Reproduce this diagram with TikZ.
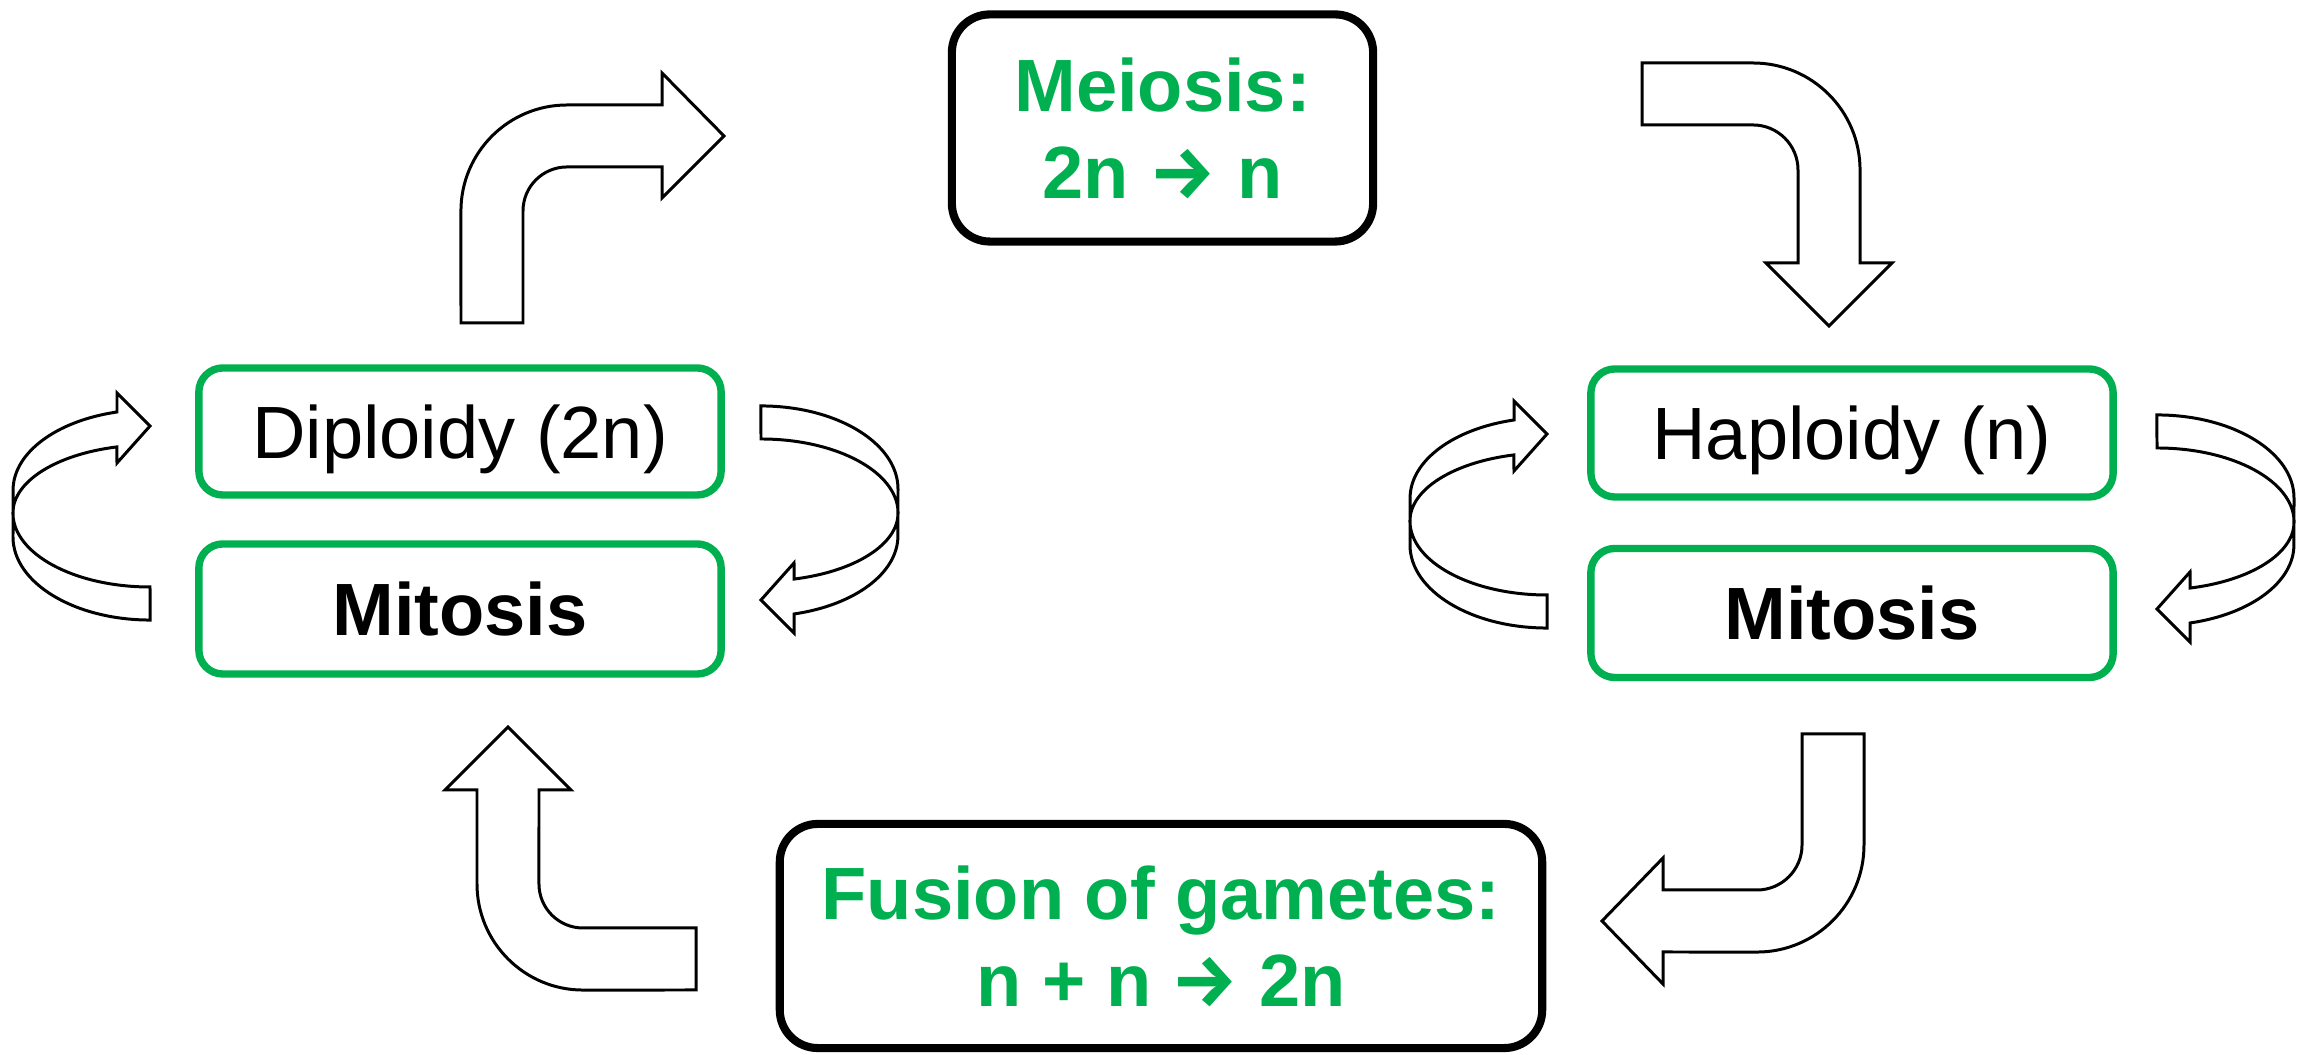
\documentclass[tikz,border=0pt]{standalone}
\usepackage{fontspec}
\setmainfont{Liberation Sans}
\newfontfamily\arrowfont{Fira Sans}
\newcommand{\bigarr}{{\arrowfont\bfseries →}}
\definecolor{ggreen}{RGB}{0,176,80}
\tikzset{
  arrowline/.style={draw=black,fill=white,line width=0.85pt,line join=miter},
  boxfont/.style={font=\fontsize{21.06pt}{24.75pt}\selectfont},
  greenbox/.style={draw=ggreen,line width=2.1pt,rounded corners=0.24cm,minimum width=5.22cm,inner sep=0pt,text depth=0pt,boxfont},
  blackbox/.style={draw=black,line width=2.3pt,rounded corners=0.38cm,inner sep=0pt,align=center,text=ggreen,font=\fontsize{21.06pt}{24.75pt}\selectfont\bfseries},
  curvarrow/.pic={
    \draw[arrowline] (0,-74) arc[start angle=270,end angle=180,x radius=1.37cm,y radius=0.74cm]
      arc[start angle=180,end angle=104,x radius=1.37cm,y radius=0.68cm]
      -- (-33,50) -- (0,87) -- (-33,120) -- (-33,101)
      arc[start angle=104,end angle=180,x radius=1.37cm,y radius=0.804cm]
      -- (-137,-24)
      arc[start angle=180,end angle=270,x radius=1.37cm,y radius=0.83cm]
      -- cycle;
  }
}
\begin{document}
\begin{tikzpicture}[x=0.01cm,y=0.01cm]
\useasboundingbox (0,0) rectangle (2305,1055);

% boxes
\node[greenbox,minimum height=1.27cm] (dip) at (460,623.5) {Diploidy (2n)};
\node[greenbox,minimum height=1.30cm,font=\fontsize{21.06pt}{24.75pt}\selectfont\bfseries] (mitL) at (460,446) {Mitosis};
\node[greenbox,minimum height=1.28cm] (hap) at (1852,622) {Haploidy (n)};
\node[greenbox,minimum height=1.29cm,font=\fontsize{21.06pt}{24.75pt}\selectfont\bfseries] (mitR) at (1852,442) {Mitosis};
\node[blackbox,minimum width=4.21cm,minimum height=2.27cm] (mei) at (1162.5,927) {Meiosis:\\2n \bigarr{} n};
\node[blackbox,minimum width=7.62cm,minimum height=2.24cm] (fus) at (1161,119) {Fusion of gametes:\\n + n \bigarr{} 2n};

% bent arrows
\draw[arrowline] (461,732) -- (523,732) -- (523,844)
  arc[start angle=180,end angle=90,radius=0.44cm] -- (662,888) -- (662,857) -- (724,919)
  -- (662,982) -- (662,950) -- (567,950)
  arc[start angle=90,end angle=180,radius=1.06cm] -- cycle;

\draw[arrowline] (1642,992) -- (1753,992)
  arc[start angle=90,end angle=0,radius=1.07cm] -- (1860,792) -- (1892,792) -- (1829,729)
  -- (1766,792) -- (1798,792) -- (1798,885)
  arc[start angle=0,end angle=90,radius=0.45cm] -- (1642,930) -- cycle;

\draw[arrowline] (1802,321) -- (1864,321) -- (1864,210)
  arc[start angle=0,end angle=-90,radius=1.07cm] -- (1663,103) -- (1663,71) -- (1602,134)
  -- (1663,197) -- (1663,165) -- (1757,165)
  arc[start angle=-90,end angle=0,radius=0.45cm] -- cycle;

\draw[arrowline] (696,127) -- (583,127)
  arc[start angle=270,end angle=180,radius=0.44cm] -- (539,265) -- (571,265) -- (508,328)
  -- (445,265) -- (477,265) -- (477,171)
  arc[start angle=180,end angle=270,radius=1.06cm] -- (696,65) -- cycle;

% curved arrows
\pic at (150,542) {curvarrow};
\pic[rotate=180] at (761,542) {curvarrow};
\pic at (1547,534) {curvarrow};
\pic[rotate=180] at (2157,533) {curvarrow};
\end{tikzpicture}
\end{document}
